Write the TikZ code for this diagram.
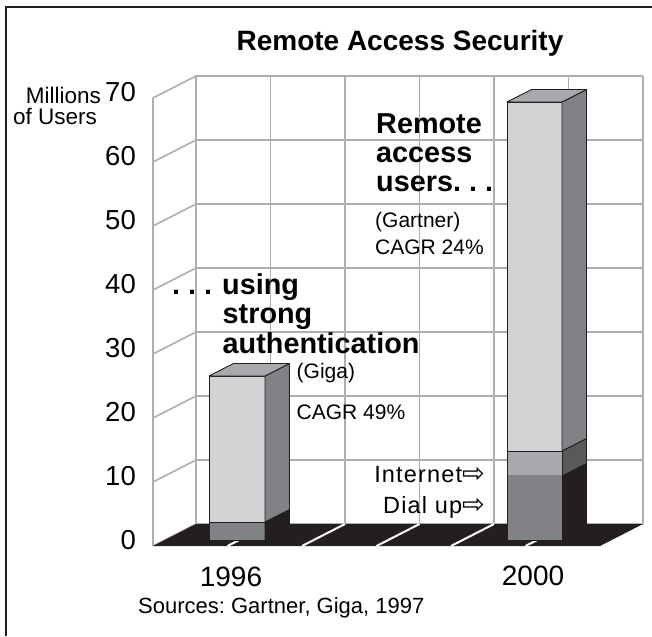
\documentclass[tikz,border=0pt]{standalone}
\usepackage{fontspec}
\setmainfont{Liberation Sans}
\newfontfamily\arrowfont{DejaVu Sans}
\newfontfamily\spacedfont[LetterSpace=5]{Liberation Sans}
\usetikzlibrary{positioning}
\frenchspacing

\definecolor{ink}{RGB}{35,31,32}
\definecolor{gridgray}{RGB}{172,174,177}
\definecolor{lightface}{RGB}{209,211,212}
\definecolor{midface}{RGB}{167,169,172}
\definecolor{darkface}{RGB}{128,130,133}
\definecolor{shadeface}{RGB}{88,89,91}

\tikzstyle{gridline} = [draw=gridgray, line width=1.6pt]
\tikzstyle{floorline} = [draw=white, line width=2pt]
\tikzstyle{face} = [draw=ink, line width=0.9pt, line join=round]
\tikzstyle{ticklabel} = [anchor=base east, inner sep=0pt, font=\fontsize{27.5}{27.5}\selectfont]
\tikzstyle{yearlabel} = [anchor=base, inner sep=0pt, font=\fontsize{28}{28}\selectfont]
\tikzstyle{callout} = [anchor=base west, inner sep=0pt, font=\bfseries\fontsize{28.8}{28.8}\selectfont]
\tikzstyle{note} = [anchor=base west, inner sep=0pt, font=\fontsize{21}{21}\selectfont]
\tikzstyle{segment} = [anchor=base east, inner sep=0pt, font=\spacedfont\fontsize{23.5}{23.5}\selectfont]

\begin{document}
\begin{tikzpicture}[x=1pt, y=-1pt]
\useasboundingbox (0,0) rectangle (652,636);

% frame
\draw[ink, line width=2pt] (6,636) -- (6,7) -- (652,7);

% side wall and back wall grid
\draw[gridline] (153,98) -- (153,546);
\foreach \v in {0,10,...,70} {
  \draw[gridline] (153,{546-6.4*\v}) -- (196,{524-6.4*\v}) -- (643,{524-6.4*\v});
}
\foreach \x in {196,270.5,345,419.5,494,568.5,643} {
  \draw[gridline] (\x,76) -- (\x,524);
}

% floor
\fill[ink] (153,546) -- (600,546) -- (643,524) -- (196,524) -- cycle;
\foreach \x in {270.5,345,419.5,494,568.5} {
  \draw[floorline] ({\x-43},546) -- (\x,524);
}

% 1996 bar
\filldraw[face, fill=darkface] (209,522) rectangle (265,540);
\filldraw[face, fill=ink] (265,522) -- ++(24.5,-12.5) -- ++(0,18) -- ++(-24.5,12.5) -- cycle;
\filldraw[face, fill=lightface] (209,376) rectangle (265,522);
\filldraw[face, fill=darkface] (265,376) -- ++(24.5,-12.5) -- ++(0,146) -- ++(-24.5,12.5) -- cycle;
\filldraw[face, fill=midface] (209,376) -- (265,376) -- ++(24.5,-12.5) -- ++(-56,0) -- cycle;

% 2000 bar
\fill[darkface] (507,475) rectangle (562,540);
\fill[ink] (562,475) -- ++(24.5,-12.5) -- ++(0,65) -- ++(-24.5,12.5) -- cycle;
\fill[midface] (507,451) rectangle (562,475);
\fill[shadeface] (562,451) -- ++(24.5,-12.5) -- ++(0,24) -- ++(-24.5,12.5) -- cycle;
\draw[face] (507,451) rectangle (562,540);
\draw[face] (562,451) -- ++(24.5,-12.5) -- ++(0,89) -- ++(-24.5,12.5);
\filldraw[face, fill=lightface] (507,102) rectangle (562,451);
\filldraw[face, fill=darkface] (562,102) -- ++(24.5,-12.5) -- ++(0,349) -- ++(-24.5,12.5) -- cycle;
\filldraw[face, fill=midface] (507,102) -- (562,102) -- ++(24.5,-12.5) -- ++(-55,0) -- cycle;

% titles and axis
\node (title) [anchor=base, inner sep=0pt, font=\bfseries\fontsize{28}{28}\selectfont] at (400,50.5) {Remote Access Security};
\node (millions) [anchor=base east, inner sep=0pt, font=\fontsize{22.5}{22.5}\selectfont] at (101,103.3) {Millions};
\node (ofusers) [anchor=base east, inner sep=0pt, font=\fontsize{22.5}{22.5}\selectfont] at (97,125) {of Users};
\foreach \v in {0,10,...,70} {
  \node (tick\v) [ticklabel] at (136,{549.5-6.4*\v}) {\v};
}
\node (y1996) [yearlabel] at (231,586.5) {1996};
\node (y2000) [yearlabel] at (533,585) {2000};
\node (sources) [anchor=base west, inner sep=0pt, font=\fontsize{22}{22}\selectfont] at (138,613) {Sources: Gartner, Giga, 1997};

% remote access callout
\node (remote) [callout] at (376,134) {Remote};
\node (access) [callout] at (376,163) {access};
\node (users) [callout] at (376,192) {users. . .};
\node (gartner) [note] at (375,227.5) {(Gartner)};
\node (cagrgartner) [note] at (375,254) {CAGR 24\%};

% strong authentication callout
\node (using) [callout] at (172,294) {. . .\hspace{10pt}using};
\node (strong) [callout] at (222.5,323.5) {strong};
\node (authentication) [callout] at (222.5,353) {authentication};
\node (giga) [note] at (296.5,378) {(Giga)};
\node (cagrgiga) [note] at (296.5,419) {CAGR 49\%};

% segment labels
\node (internet) [segment] at (485,482) {Internet{\arrowfont\fontsize{27}{27}\selectfont ⇨}};
\node (dialup) [segment] at (485,513.3) {Dial up{\arrowfont\fontsize{27}{27}\selectfont ⇨}};

\end{tikzpicture}
\end{document}
